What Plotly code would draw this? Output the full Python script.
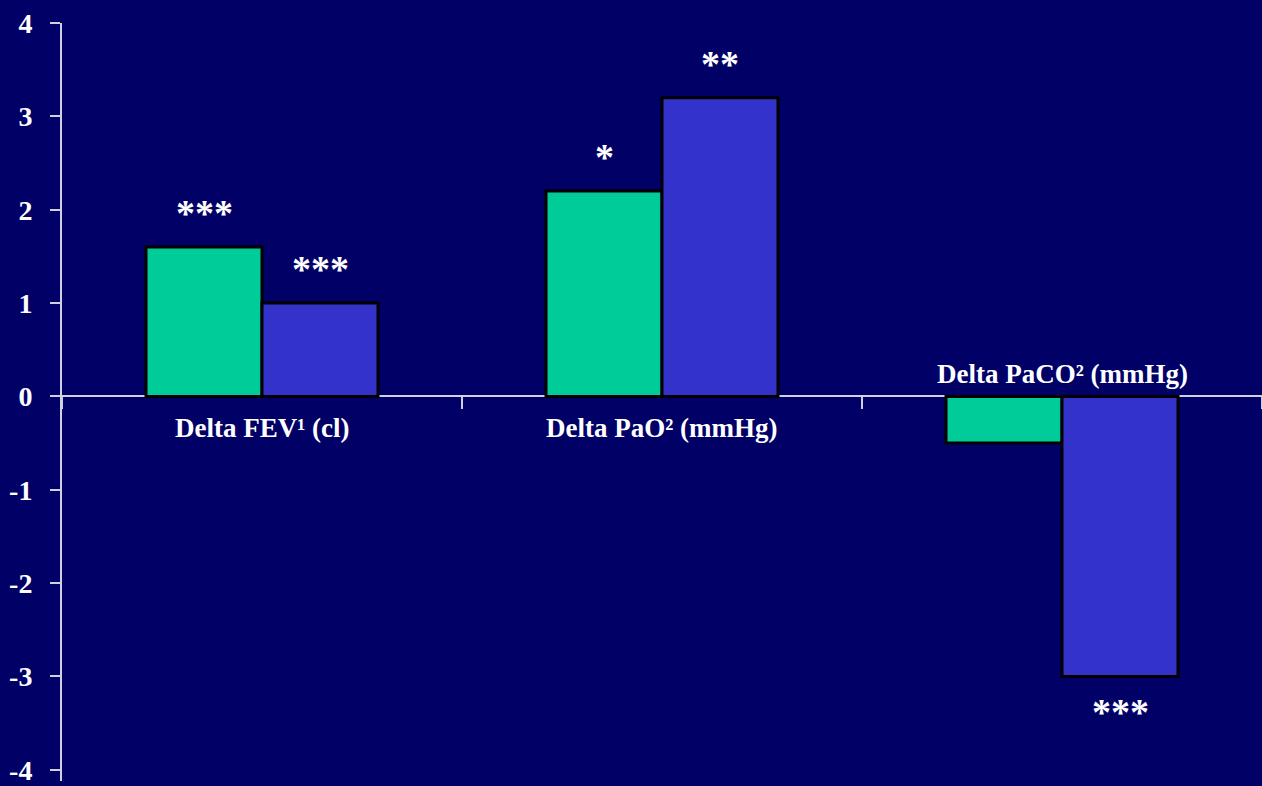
import plotly.graph_objects as go

# ---- data ----
categories = ["Delta FEV¹ (cl)", "Delta PaO² (mmHg)", "Delta PaCO² (mmHg)"]
series_a = [1.6, 2.2, -0.5]     # green bars
series_b = [1.0, 3.2, -3.0]     # blue bars
sig_a = ["***", "*", ""]
sig_b = ["***", "**", "***"]
y_tick_vals = [-4, -3, -2, -1, 0, 1, 2, 3, 4]
y_tick_text = ["-4", "-3", "-2", "-1", "0", "1", "2", "3", "4"]

# ---- style ----
W, H = 1262, 786
ML, MR, MT, MB = 62, 0, 23, 2
BG = "#000066"
GREEN = "#00CC99"
BLUE = "#3333CC"
AXIS = "#D0D0E0"
FONT = "Liberation Serif"
BARGAP = 0.42
Y_RANGE = [-4.12, 4]

plot_w = W - ML - MR
cat_px = plot_w / len(categories)
bar_px = cat_px * (1 - BARGAP) / 2

fig = go.Figure()
fig.add_trace(go.Bar(x=categories, y=series_a, marker=dict(color=GREEN, line=dict(color="black", width=3)),
                     showlegend=False, hoverinfo="y"))
fig.add_trace(go.Bar(x=categories, y=series_b, marker=dict(color=BLUE, line=dict(color="black", width=3)),
                     showlegend=False, hoverinfo="y"))

zero_pos = (0 - Y_RANGE[0]) / (Y_RANGE[1] - Y_RANGE[0])

annotations = []
for i, cat in enumerate(categories):
    for vals, sigs, side in ((series_a, sig_a, -1), (series_b, sig_b, 1)):
        if sigs[i]:
            v = vals[i]
            annotations.append(dict(
                x=cat, y=v, xref="x", yref="y", text="<b>%s</b>" % sigs[i], showarrow=False,
                xshift=side * bar_px / 2, yshift=(34 if v > 0 else -36),
                yanchor="middle", font=dict(family=FONT, size=38, color="white")))
    above = series_a[i] < 0 and series_b[i] < 0
    annotations.append(dict(
        x=cat, y=0, xref="x", yref="y", text="<b>%s</b>" % cat, showarrow=False,
        yanchor=("bottom" if above else "top"), yshift=(5 if above else -15),
        font=dict(family=FONT, size=27, color="white")))

fig.update_layout(
    width=W, height=H,
    margin=dict(l=ML, r=MR, t=MT, b=MB, pad=0),
    paper_bgcolor=BG, plot_bgcolor=BG,
    barmode="group", bargap=BARGAP, bargroupgap=0,
    showlegend=False,
    annotations=annotations,
    xaxis=dict(
        type="category", anchor="free", position=zero_pos,
        showline=True, linecolor=AXIS, linewidth=2,
        ticks="outside", tickson="boundaries", ticklen=12, tickwidth=2, tickcolor=AXIS,
        showticklabels=False, showgrid=False, zeroline=False, layer="below traces",
    ),
    yaxis=dict(
        range=Y_RANGE, tickmode="array", tickvals=y_tick_vals, ticktext=y_tick_text,
        showline=True, linecolor=AXIS, linewidth=2,
        ticks="outside", ticklen=10, tickwidth=2, tickcolor=AXIS,
        ticklabelstandoff=12, ticklabeloverflow="allow",
        tickfont=dict(family=FONT, size=28, color="white", weight="bold"),
        showgrid=False, zeroline=False,
    ),
)

fig.write_html(
    "out.html",
    config={"displayModeBar": False},
    post_script="document.body.style.margin='0';document.body.style.overflow='hidden';"
                "document.body.style.background='%s';" % BG,
)
